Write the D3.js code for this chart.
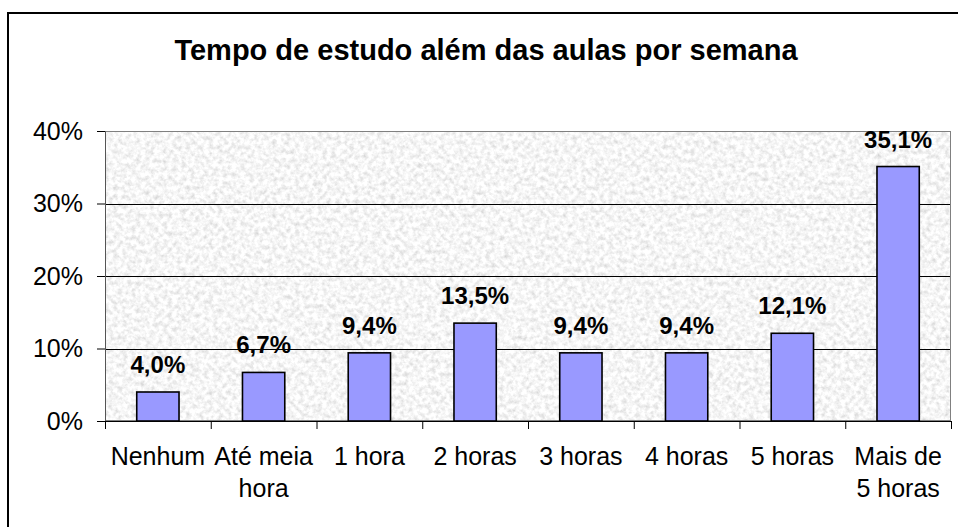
<!DOCTYPE html>
<html>
<head>
<meta charset="utf-8">
<script src="https://cdn.jsdelivr.net/npm/d3@7"></script>
<style>
  html, body { margin: 0; padding: 0; background: #fff; }
  svg { display: block; font-family: Arial, "Liberation Sans", sans-serif; }
</style>
</head>
<body>
<svg id="chart" width="958" height="527"></svg>
<script>
const title = "Tempo de estudo além das aulas por semana";
const categories = ["Nenhum", "Até meia\nhora", "1 hora", "2 horas", "3 horas", "4 horas", "5 horas", "Mais de\n5 horas"];
const values = [4.0, 6.7, 9.4, 13.5, 9.4, 9.4, 12.1, 35.1];
const yTicks = [0, 10, 20, 30, 40];

const svg = d3.select("#chart");
const plot = { left: 105, top: 131, right: 951, bottom: 421 };
const FONT = "Arial, 'Liberation Sans', sans-serif";

// texture filter for plot background
const defs = svg.append("defs");
const f = defs.append("filter").attr("id", "granite")
  .attr("x", 0).attr("y", 0).attr("width", 1).attr("height", 1)
  .attr("filterUnits", "objectBoundingBox");
f.append("feTurbulence").attr("type", "fractalNoise")
  .attr("baseFrequency", 0.22).attr("numOctaves", 3).attr("seed", 7).attr("result", "n");
f.append("feColorMatrix").attr("in", "n").attr("type", "matrix")
  .attr("values", "0.6 0 0 0 0.62  0.6 0 0 0 0.62  0.6 0 0 0 0.62  0 0 0 0 1");

// outer border
svg.append("rect").attr("x", 8).attr("y", 13).attr("width", 980).attr("height", 560)
  .attr("fill", "#fff").attr("stroke", "#000").attr("stroke-width", 2);

const x = d3.scaleBand().domain(categories).range([plot.left, plot.right]).paddingInner(0).paddingOuter(0);
const xIdx = d3.scaleLinear().domain([0, categories.length]).range([plot.left, plot.right]);
const y = d3.scaleLinear().domain([0, 40]).range([plot.bottom, plot.top]);

// plot background
svg.append("rect").attr("x", plot.left).attr("y", plot.top)
  .attr("width", plot.right - plot.left).attr("height", plot.bottom - plot.top)
  .attr("fill", "#e8e8e8").attr("filter", "url(#granite)");

// gridlines
svg.append("g").selectAll("line").data(yTicks.filter(d => d > 0 && d < 40)).join("line")
  .attr("x1", plot.left).attr("x2", plot.right)
  .attr("y1", d => Math.round(y(d)) + 0.5).attr("y2", d => Math.round(y(d)) + 0.5)
  .attr("stroke", "#000").attr("stroke-width", 1);

// plot border
svg.append("rect").attr("x", plot.left + 0.5).attr("y", plot.top + 0.5)
  .attr("width", plot.right - plot.left - 1).attr("height", plot.bottom - plot.top - 1)
  .attr("fill", "none").attr("stroke", "#808080").attr("stroke-width", 1);

// bars
const bw = x.bandwidth() / 2.5;
svg.append("g").selectAll("rect").data(values).join("rect")
  .attr("x", (d, i) => x(categories[i]) + (x.bandwidth() - bw) / 2)
  .attr("y", d => y(d))
  .attr("width", bw)
  .attr("height", d => y(0) - y(d))
  .attr("fill", "#9999ff").attr("stroke", "#000").attr("stroke-width", 1.6);

// data labels
svg.append("g").selectAll("text").data(values).join("text")
  .attr("x", (d, i) => x(categories[i]) + x.bandwidth() / 2)
  .attr("y", d => y(d) - 19)
  .attr("text-anchor", "middle")
  .attr("font-size", 24).attr("font-weight", "bold").attr("fill", "#000")
  .text(d => d.toFixed(1).replace(".", ",") + "%");

// y axis
const yAxis = svg.append("g").attr("transform", `translate(${plot.left},0)`)
  .call(d3.axisLeft(y).tickValues(yTicks).tickFormat(d => d + "%").tickSize(8).tickPadding(14));
yAxis.select(".domain").attr("stroke", "#555");
yAxis.selectAll(".tick line").attr("stroke", "#000");
yAxis.selectAll(".tick text").attr("font-size", 25).attr("fill", "#000")
  .attr("font-family", FONT);

// x axis boundary ticks
const xTickAxis = svg.append("g").attr("transform", `translate(0,${plot.bottom})`)
  .call(d3.axisBottom(xIdx).tickValues(d3.range(categories.length + 1)).tickFormat("").tickSize(8).tickSizeOuter(0));
xTickAxis.select(".domain").attr("stroke", "#000");
xTickAxis.selectAll(".tick line").attr("stroke", "#000");

// x labels
const xAxis = svg.append("g").attr("transform", `translate(0,${plot.bottom})`)
  .call(d3.axisBottom(x).tickSize(0).tickFormat(""));
xAxis.select(".domain").remove();
xAxis.selectAll(".tick").each(function(d) {
  const lines = d.split("\n");
  const t = d3.select(this).append("text")
    .attr("text-anchor", "middle").attr("font-size", 25).attr("fill", "#000")
    .attr("font-family", FONT);
  lines.forEach((ln, i) => {
    t.append("tspan").attr("x", 0).attr("y", 44 + i * 32).text(ln);
  });
});

// title
svg.append("text").attr("x", 486).attr("y", 60).attr("text-anchor", "middle")
  .attr("font-size", 29).attr("font-weight", "bold").attr("fill", "#000")
  .text(title);
</script>
</body>
</html>
